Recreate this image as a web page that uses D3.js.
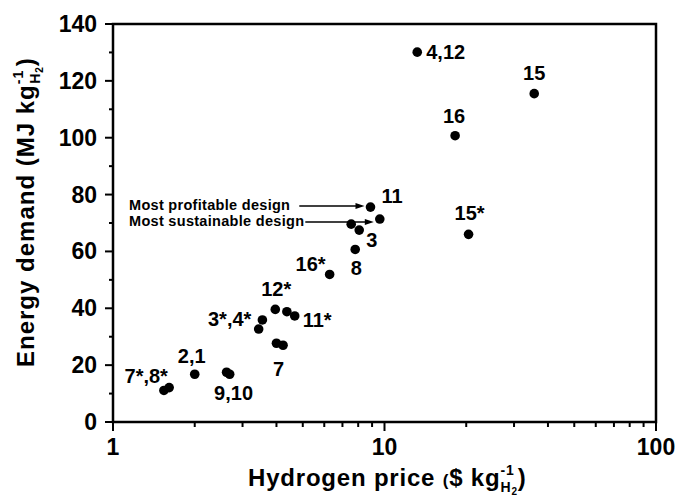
<!DOCTYPE html>
<html>
<head>
<meta charset="utf-8">
<script src="https://cdn.jsdelivr.net/npm/d3@7"></script>
<style>
  body { margin: 0; background: #fff; }
  svg text { font-family: 'Liberation Sans', Arial, sans-serif; font-weight: bold; fill: #000; }
</style>
</head>
<body>
<div id="chart"></div>
<script>
// hydrogen price ($/kg) and energy demand (MJ/kg) per design
const price = [13.2, 35.6, 18.2, 8.88, 9.61, 7.54, 8.07, 20.4, 7.80, 6.28, 3.96, 4.37, 4.67, 3.55, 3.44, 4.00, 4.23, 2.00, 2.62, 2.69, 1.54, 1.61];
const energy = [130.1, 115.5, 100.7, 75.6, 71.4, 69.6, 67.5, 66.0, 60.7, 51.9, 39.6, 38.8, 37.3, 35.9, 32.7, 27.7, 27.0, 16.8, 17.5, 16.8, 11.1, 12.1];

// design labels and the point each one sits next to
const labelText = ['4,12', '15', '16', '11', '15*', '3', '8', '16*', '12*', '11*', '3*,4*', '7', '2,1', '9,10', '7*,8*'];
const labelPoint = [0, 1, 2, 3, 7, 6, 8, 9, 10, 12, 13, 15, 17, 18, 20];

const noteText = ['Most profitable design', 'Most sustainable design'];
const notePoint = [3, 4];

const xTicks = [1, 10, 100];
const yTicks = [0, 20, 40, 60, 80, 100, 120, 140];

const size = { width: 678, height: 500 };
const margin = { top: 24, right: 22, bottom: 78, left: 113 };

// label offsets in px: [dx, dy, anchor]
const labelPos = [
  [9, 7, 'start'], [0, -14, 'middle'], [-1, -13, 'middle'], [11, -4, 'start'],
  [1, -14, 'middle'], [7, 17, 'start'], [1, 26, 'middle'], [-4, -3, 'end'],
  [1, -13, 'middle'], [8, 11, 'start'], [-11, 6, 'end'], [2, 33, 'middle'],
  [-3, -11, 'middle'], [7, 28, 'middle'], [4, -7, 'end'],
];

const svg = d3.select('#chart').append('svg').attr('width', size.width).attr('height', size.height);

const x = d3.scaleLog().domain([1, 100]).range([margin.left, size.width - margin.right]);
const y = d3.scaleLinear().domain([0, 140]).range([size.height - margin.bottom, margin.top]);

const x0 = x.range()[0];
const x1 = x.range()[1];
const y0 = y.range()[0];
const y1 = y.range()[1];

// minor ticks
const xMinor = d3.range(1, 10).flatMap((d) => [d, d * 10]).filter((d) => !xTicks.includes(d));
svg.append('g').selectAll('line').data(xMinor).join('line')
  .attr('x1', (d) => x(d)).attr('x2', (d) => x(d))
  .attr('y1', y0).attr('y2', y0 + 5)
  .attr('stroke', '#000').attr('stroke-width', 2);

svg.append('g').selectAll('line').data(d3.range(10, 140, 20)).join('line')
  .attr('x1', x0 - 4).attr('x2', x0)
  .attr('y1', (d) => y(d)).attr('y2', (d) => y(d))
  .attr('stroke', '#000').attr('stroke-width', 2);

// major ticks
svg.append('g').selectAll('line').data(xTicks).join('line')
  .attr('x1', (d) => x(d)).attr('x2', (d) => x(d))
  .attr('y1', y0).attr('y2', y0 + 9)
  .attr('stroke', '#000').attr('stroke-width', 2);

svg.append('g').selectAll('line').data(yTicks).join('line')
  .attr('x1', x0 - 8).attr('x2', x0)
  .attr('y1', (d) => y(d)).attr('y2', (d) => y(d))
  .attr('stroke', '#000').attr('stroke-width', 2);

// frame
svg.append('rect')
  .attr('x', x0).attr('y', y1)
  .attr('width', x1 - x0).attr('height', y0 - y1)
  .attr('fill', 'none').attr('stroke', '#000').attr('stroke-width', 2.5);

// tick labels
svg.append('g').selectAll('text').data(yTicks).join('text')
  .attr('x', x0 - 16).attr('y', (d) => y(d) + 8)
  .attr('text-anchor', 'end').style('font-size', '23px')
  .text((d) => d);

svg.append('g').selectAll('text').data(xTicks).join('text')
  .attr('x', (d) => x(d)).attr('y', y0 + 33)
  .attr('text-anchor', 'middle').style('font-size', '23px')
  .text((d) => d);

// points
svg.append('g').selectAll('circle').data(price).join('circle')
  .attr('cx', (d) => x(d))
  .attr('cy', (d, i) => y(energy[i]))
  .attr('r', 4.8)
  .attr('fill', '#000');

// point labels
svg.append('g').selectAll('text').data(labelText).join('text')
  .attr('x', (d, i) => x(price[labelPoint[i]]) + labelPos[i][0])
  .attr('y', (d, i) => y(energy[labelPoint[i]]) + labelPos[i][1])
  .attr('text-anchor', (d, i) => labelPos[i][2])
  .style('font-size', '20px')
  .text((d) => d);

// annotations with arrows
const noteBase = [210, 226];
const noteGap = [9, 1];
noteText.forEach((t, i) => {
  const txt = svg.append('text')
    .attr('x', 129).attr('y', noteBase[i])
    .style('font-size', '14.5px')
    .style('letter-spacing', '0.3px')
    .text(t);
  const ax0 = 129 + txt.node().getComputedTextLength() + noteGap[i];
  const ay = noteBase[i] - 4;
  const ax1 = x(price[notePoint[i]]) - 6;
  svg.append('line')
    .attr('x1', ax0).attr('x2', ax1 - 6)
    .attr('y1', ay).attr('y2', ay)
    .attr('stroke', '#000').attr('stroke-width', 1.3);
  svg.append('path')
    .attr('d', `M${ax1},${ay} L${ax1 - 9},${ay - 3} L${ax1 - 9},${ay + 3} Z`)
    .attr('fill', '#000');
});

// axis titles
const xt = svg.append('text')
  .attr('x', 248).attr('y', 486)
  .style('font-size', '24px')
  .style('letter-spacing', '0.8px');
xt.append('tspan').text('Hydrogen price ');
xt.append('tspan').style('font-size', '17px').text('(');
xt.append('tspan').text('$ kg');
xt.append('tspan').attr('dy', -11).style('font-size', '14px').text('-1');
xt.append('tspan').attr('dx', -14).attr('dy', 17).style('font-size', '14px').text('H');
xt.append('tspan').attr('dy', 3).style('font-size', '10px').text('2');
xt.append('tspan').attr('dy', -9).text(')');

const yt = svg.append('text')
  .attr('transform', 'translate(34,367) rotate(-90)')
  .style('font-size', '24px')
  .style('letter-spacing', '1px');
yt.append('tspan').text('Energy demand (MJ kg');
yt.append('tspan').attr('dy', -11).style('font-size', '14px').text('-1');
yt.append('tspan').attr('dx', -14).attr('dy', 17).style('font-size', '14px').text('H');
yt.append('tspan').attr('dy', 3).style('font-size', '10px').text('2');
yt.append('tspan').attr('dy', -9).text(')');
</script>
</body>
</html>
